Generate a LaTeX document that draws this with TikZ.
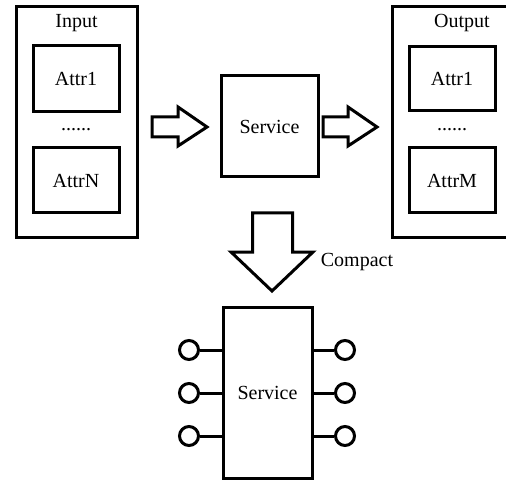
\documentclass[tikz,border=0pt]{standalone}
\usepackage{fontspec}
\setmainfont{Liberation Serif}
\begin{document}
\begin{tikzpicture}[x=1pt,y=-1pt,
  lw/.style={line width=3pt},
  box/.style={draw,lw,inner sep=0pt,fill=white},
  lbl/.style={inner sep=0pt,font=\fontsize{20}{23}\selectfont},
  pin/.style={draw,lw,circle,minimum size=19pt,inner sep=0pt,fill=white},
  barrow/.style={draw,lw,line join=miter,fill=white}]
\useasboundingbox (0,0) rectangle (506,481);
% Input group
\node[box,minimum width=121pt,minimum height=231pt] (inbox) at (76.5,122.5) {};
\node[lbl] (inlbl) at (76.5,23) {Input};
\node[box,minimum width=86pt,minimum height=66pt] (ina) at (76,79) {};
\node[lbl] at (ina) {Attr1};
\node[lbl] (indots) at (76,130) {......};
\node[box,minimum width=86pt,minimum height=65pt] (inn) at (76,180.5) {};
\node[lbl] at (inn) {AttrN};
% Service
\node[box,minimum width=97pt,minimum height=101pt] (svc) at (269.5,126.5) {};
\node[lbl] at (svc) {Service};
% Output group (clipped by right edge)
\node[box,minimum width=130pt,minimum height=231pt] (outbox) at (457,122.5) {};
\node[lbl] (outlbl) at (462,23) {Output};
\node[box,minimum width=86pt,minimum height=64pt] (outa) at (452,79) {};
\node[lbl] at (outa) {Attr1};
\node[lbl] (outdots) at (452,130) {......};
\node[box,minimum width=86pt,minimum height=65pt] (outm) at (452,180.5) {};
\node[lbl] at (outm) {AttrM};
% Block arrows
\draw[barrow] (152,117) -- (178,117) -- (178,107) -- (207,127) -- (178,146) -- (178,137) -- (152,137) -- cycle;
\draw[barrow] (323,117) -- (348,117) -- (348,107) -- (377,127) -- (348,146) -- (348,137) -- (323,137) -- cycle;
\draw[barrow] (252.5,213) -- (292.5,213) -- (292.5,252) -- (313,252) -- (272,291) -- (231,252) -- (252.5,252) -- cycle;
\node[lbl] (compact) at (357,262) {Compact};
% Compact service
\node[box,minimum width=89pt,minimum height=171pt] (csvc) at (267.5,392.5) {};
\node[lbl] at (csvc) {Service};
\foreach \i/\yy in {1/350,2/393,3/436}{
  \node[pin] (l\i) at (189,\yy) {};
  \node[pin] (r\i) at (345,\yy) {};
  \coordinate (lw\i) at (csvc.west |- l\i);
  \coordinate (re\i) at (csvc.east |- r\i);
  \draw[lw] (l\i) -- (lw\i);
  \draw[lw] (r\i) -- (re\i);
}
\end{tikzpicture}
\end{document}
